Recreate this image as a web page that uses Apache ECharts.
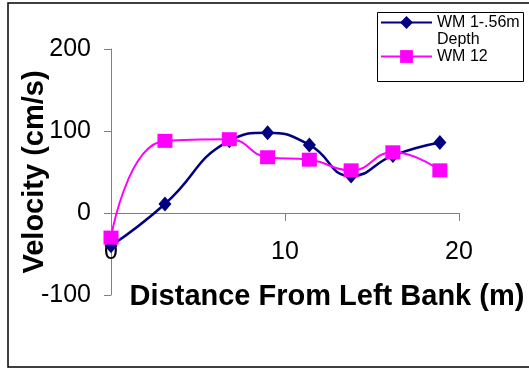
<!DOCTYPE html>
<html>
<head>
<meta charset="utf-8">
<script src="https://cdn.jsdelivr.net/npm/echarts@6/dist/echarts.min.js"></script>
<style>
  html, body { margin: 0; padding: 0; background: #ffffff; }
  #chart { width: 529px; height: 368px; }
</style>
</head>
<body>
<div id="chart"></div>
<script>
// Distance from the left bank (m) at each measuring station
const distances = [0, 3.1, 6.8, 9.0, 11.4, 13.8, 16.2, 18.9];
// Velocity readings (cm/s)
const wm1Velocity = [-40, 11, 88, 98, 83, 45, 70, 86];
const wm12Velocity = [-30, 88, 90, 68, 65, 52, 74, 52];

const seriesNames = ['WM 1-.56m Depth', 'WM 12'];
const xTicks = [0, 10, 20];
const yTicks = [-100, 0, 100, 200];

const FONT = '"Liberation Sans", Arial, sans-serif';

// plot area placement inside the 529 x 368 canvas
const GRID = { left: 111, right: 70, top: 49, bottom: 73 };
const CANVAS_H = 368;

function pairs(xs, ys) {
  return xs.map(function (x, i) { return [x, ys[i]]; });
}

// lift the horizontal axis from the bottom of the plot up to velocity = 0
const yMin = yTicks[0];
const yMax = yTicks[yTicks.length - 1];
const plotHeight = CANVAS_H - GRID.top - GRID.bottom;
const zeroLineOffset = -plotHeight * (0 - yMin) / (yMax - yMin);

const chart = echarts.init(document.getElementById('chart'), null, { renderer: 'canvas' });

chart.setOption({
  animation: false,
  backgroundColor: '#ffffff',
  textStyle: { fontFamily: FONT },
  grid: {
    left: GRID.left, right: GRID.right, top: GRID.top, bottom: GRID.bottom,
    containLabel: false,
    outerBoundsMode: 'none'
  },
  xAxis: {
    type: 'value',
    position: 'bottom',
    offset: zeroLineOffset,
    min: xTicks[0],
    max: xTicks[xTicks.length - 1],
    interval: xTicks[1] - xTicks[0],
    axisLine: { onZero: false, lineStyle: { color: '#808080', width: 1 } },
    axisTick: { show: true, inside: false, length: 8, lineStyle: { color: '#808080' } },
    axisLabel: { margin: 27, fontSize: 25, color: '#000000', fontFamily: FONT },
    splitLine: { show: false }
  },
  yAxis: {
    type: 'value',
    min: yMin,
    max: yMax,
    interval: yTicks[1] - yTicks[0],
    name: 'Velocity (cm/s)',
    nameLocation: 'middle',
    nameGap: 62,
    nameMoveOverlap: false,
    nameTextStyle: { fontSize: 29, fontWeight: 'bold', color: '#000000', fontFamily: FONT },
    axisLine: { show: true, onZero: false, lineStyle: { color: '#808080', width: 1 } },
    axisTick: { show: true, inside: false, length: 7, lineStyle: { color: '#808080' } },
    axisLabel: { margin: 20, fontSize: 25, color: '#000000', fontFamily: FONT },
    splitLine: { show: false }
  },
  legend: {
    orient: 'vertical',
    left: 380,
    top: -3,
    padding: 0,
    itemGap: 0,
    itemWidth: 51,
    itemHeight: 16,
    data: [seriesNames[0], seriesNames[1]],
    // the first entry wraps onto two lines, with its marker beside the top line
    formatter: function (name) {
      return name === seriesNames[0] ? ' \nWM 1-.56m\nDepth' : name;
    },
    textStyle: { fontSize: 16, lineHeight: 17, color: '#000000', fontFamily: FONT },
    z: 10
  },
  graphic: [
    {
      type: 'rect',
      z: 0,
      shape: { x: 8, y: 3, width: 540, height: 364 },
      style: { fill: 'none', stroke: '#000000', lineWidth: 1.5 }
    },
    {
      type: 'rect',
      z: 5,
      shape: { x: 377.5, y: 12.5, width: 146, height: 69 },
      style: { fill: '#ffffff', stroke: '#000000', lineWidth: 1 }
    },
    {
      type: 'text',
      z: 5,
      x: 327,
      y: 297,
      style: {
        text: 'Distance From Left Bank (m)',
        fontSize: 29,
        fontWeight: 'bold',
        fontFamily: FONT,
        fill: '#000000',
        align: 'center',
        verticalAlign: 'middle'
      }
    }
  ],
  series: [
    {
      name: seriesNames[0],
      type: 'line',
      smooth: 0.5,
      data: pairs(distances, wm1Velocity),
      symbol: 'diamond',
      symbolSize: [13, 15],
      lineStyle: { color: '#000080', width: 2.5 },
      itemStyle: { color: '#000080' },
      z: 2
    },
    {
      name: seriesNames[1],
      type: 'line',
      smooth: 0.5,
      data: pairs(distances, wm12Velocity),
      symbol: 'rect',
      symbolSize: [15, 14],
      lineStyle: { color: '#ff00ff', width: 2 },
      itemStyle: { color: '#ff00ff' },
      z: 3
    }
  ]
});
</script>
</body>
</html>
